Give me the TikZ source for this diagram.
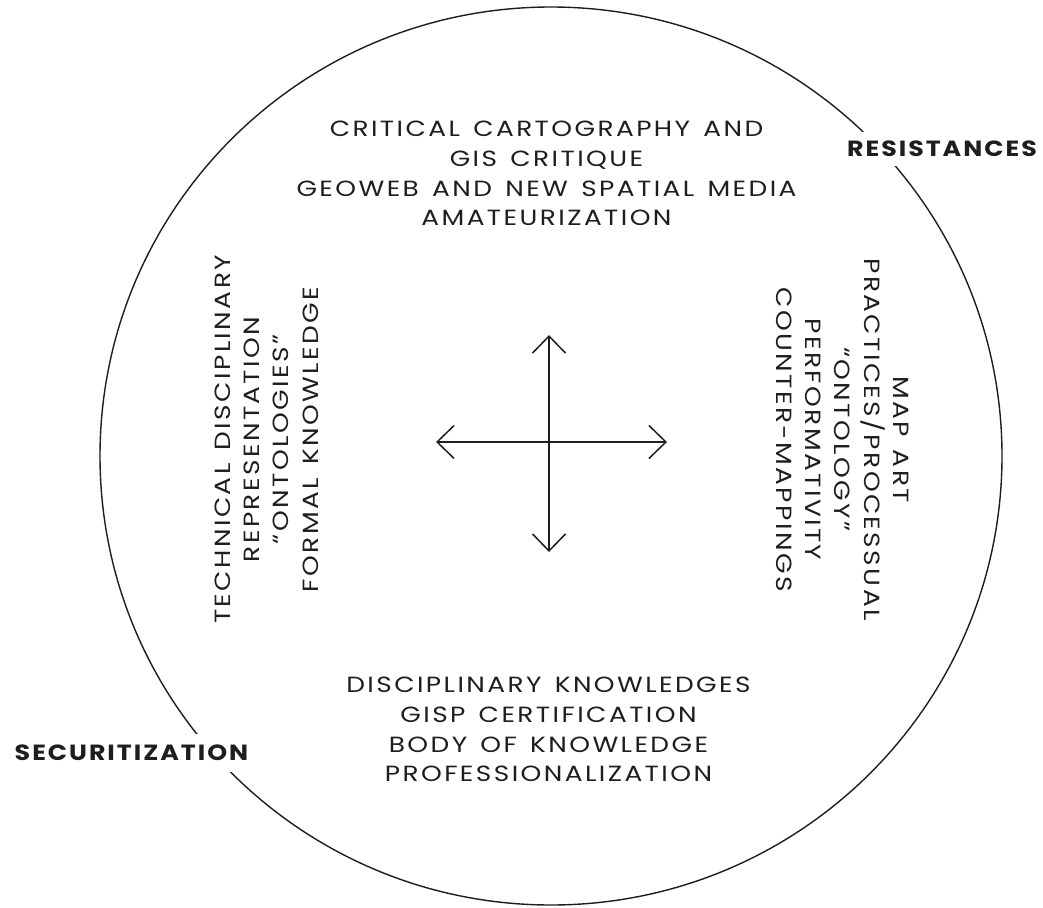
\documentclass[tikz,border=0pt]{standalone}
\usepackage{fontspec}
\setmainfont{Poppins}[FakeStretch=1.2,LetterSpace=11,WordSpace=1.4]
\newfontfamily\labfont{Poppins}[FakeStretch=1.15,LetterSpace=9,BoldFont={* Bold},BoldFeatures={FakeStretch=1.15,LetterSpace=9}]
\usetikzlibrary{arrows.meta,shapes.geometric}
\definecolor{ink}{HTML}{1E1E1E}
\tikzset{
  block/.style={align=center,text=ink,inner sep=0pt,
    font=\fontsize{22}{29.7}\selectfont},
  sideblock/.style={block,font=\fontsize{22}{29.3}\selectfont},
  tag/.style={fill=white,text=ink,inner xsep=2pt,inner ysep=9.5pt,
    font=\labfont\bfseries\fontsize{22}{25}\selectfont},
  ring/.style={ellipse,draw=ink,line width=1.4pt,inner sep=0pt,
    minimum width=902pt,minimum height=898pt},
  axis/.style={draw=ink,line width=1.5pt,
    {Straight Barb[length=17pt,width=33pt]}-{Straight Barb[length=17pt,width=33pt]}}
}
\begin{document}
\begin{tikzpicture}[x=1pt,y=-1pt]
\useasboundingbox[fill=white] (0,0) rectangle (1043,907);
\node[ring] (circ) at (551,456) {};
\coordinate (cN) at (549,335);
\coordinate (cS) at (549,552);
\coordinate (cW) at (436,442);
\coordinate (cE) at (667,442);
\draw[axis] (cW) -- (cE);
\draw[axis] (cN) -- (cS);
\node[block] (top) at (546.5,173.5) {CRITICAL CARTOGRAPHY AND\\GIS CRITIQUE\\GEOWEB AND NEW SPATIAL MEDIA\\AMATEURIZATION};
\node[block] (bottom) at (548.5,729.5) {DISCIPLINARY KNOWLEDGES\\GISP CERTIFICATION\\BODY OF KNOWLEDGE\\PROFESSIONALIZATION};
\node[sideblock,rotate=90] (left) at (266.5,439.5) {TECHNICAL DISCIPLINARY\\REPRESENTATION\\“ONTOLOGIES”\\FORMAL KNOWLEDGE};
\node[sideblock,rotate=-90] (right) at (842.5,439.5) {MAP ART\\PRACTICES/PROCESSUAL\\“ONTOLOGY”\\PERFORMATIVITY\\COUNTER-MAPPINGS};
\node[tag] (res) at (942,149) {RESISTANCES};
\node[tag,inner ysep=11pt] (sec) at (131.5,753) {SECURITIZATION};
\end{tikzpicture}
\end{document}
